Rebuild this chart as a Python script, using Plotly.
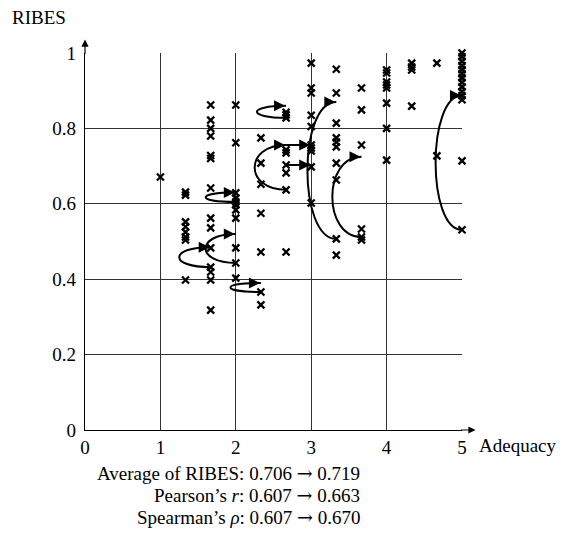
import plotly.graph_objects as go

# ---- data ----
levels = [1.0, 1.333, 1.667, 2.0, 2.333, 2.667, 3.0, 3.333, 3.667, 4.0, 4.333, 4.667, 5.0]
ribes_at_1_000 = [0.671]
ribes_at_1_333 = [0.631, 0.623, 0.552, 0.539, 0.525, 0.512, 0.504, 0.398]
ribes_at_1_667 = [0.862, 0.822, 0.800, 0.780, 0.728, 0.720, 0.642, 0.562, 0.536, 0.483, 0.432, 0.419, 0.398, 0.318]
ribes_at_2_000 = [0.862, 0.762, 0.629, 0.615, 0.605, 0.597, 0.584, 0.562, 0.483, 0.443, 0.403]
ribes_at_2_333 = [0.775, 0.708, 0.652, 0.575, 0.472, 0.366, 0.332]
ribes_at_2_667 = [0.843, 0.836, 0.828, 0.743, 0.735, 0.703, 0.682, 0.637, 0.472]
ribes_at_3_000 = [0.973, 0.907, 0.894, 0.835, 0.805, 0.756, 0.748, 0.740, 0.698, 0.602]
ribes_at_3_333 = [0.957, 0.894, 0.814, 0.775, 0.764, 0.751, 0.708, 0.663, 0.507, 0.464]
ribes_at_3_667 = [0.907, 0.849, 0.756, 0.533, 0.512, 0.504]
ribes_at_4_000 = [0.955, 0.947, 0.923, 0.915, 0.907, 0.867, 0.800, 0.716]
ribes_at_4_333 = [0.973, 0.963, 0.955, 0.859]
ribes_at_4_667 = [0.973, 0.727]
ribes_at_5_000 = [1.000, 0.990, 0.978, 0.967, 0.956, 0.945, 0.934, 0.922, 0.910, 0.898, 0.887, 0.876, 0.714, 0.531]
columns = [ribes_at_1_000, ribes_at_1_333, ribes_at_1_667, ribes_at_2_000, ribes_at_2_333,
           ribes_at_2_667, ribes_at_3_000, ribes_at_3_333, ribes_at_3_667, ribes_at_4_000,
           ribes_at_4_333, ribes_at_4_667, ribes_at_5_000]

# changes (before -> after)
arrow_x_from = [5.0, 3.333, 3.667, 2.667, 2.667, 2.667, 2.667, 2.0, 2.0, 1.667, 2.333]
arrow_y_from = [0.531, 0.507, 0.512, 0.828, 0.637, 0.756, 0.703, 0.605, 0.443, 0.432, 0.366]
arrow_x_to = [5.0, 3.333, 3.667, 2.667, 2.667, 3.0, 3.0, 2.0, 2.0, 1.667, 2.333]
arrow_y_to = [0.887, 0.870, 0.725, 0.860, 0.756, 0.756, 0.703, 0.630, 0.520, 0.485, 0.390]
arrow_leftmost = [4.65, 2.95, 3.28, 2.28, 2.25, None, None, 1.60, 1.60, 1.25, 1.93]

x_ticks = [0, 1, 2, 3, 4, 5]
y_ticks = [0, 0.2, 0.4, 0.6, 0.8, 1.0]
y_tick_text = ["0", "0.2", "0.4", "0.6", "0.8", "1"]

ARROW = "<span style='font-family:DejaVu Serif'>\u2192</span>"
stats_lines = [
    f"Average of RIBES: 0.706 {ARROW} 0.719",
    f"Pearson\u2019s <i>r</i>: 0.607 {ARROW} 0.663",
    f"Spearman\u2019s <i>\u03c1</i>: 0.607 {ARROW} 0.670",
]

# ---- figure ----
FONT = "Liberation Serif"
FS = 19

xs, ys = [], []
for lv, col in zip(levels, columns):
    for v in col:
        xs.append(lv)
        ys.append(v)

fig = go.Figure()
fig.add_trace(go.Scatter(
    x=xs, y=ys, mode="markers", cliponaxis=False,
    marker=dict(symbol="x-thin", size=7, color="black",
                line=dict(width=2.3, color="black")),
    showlegend=False, hoverinfo="skip",
))

shapes = []
annotations = []
for x0, y0, x1, y1, xl in zip(arrow_x_from, arrow_y_from, arrow_x_to, arrow_y_to, arrow_leftmost):
    if xl is None:
        path = f"M {x0},{y0} L {x1},{y1}"
    else:
        c = (4 * xl - x0) / 3
        path = f"M {x0},{y0} C {c},{y0} {c},{y1} {x1},{y1}"
    shapes.append(dict(type="path", xref="x", yref="y", path=path,
                       line=dict(color="black", width=2), layer="above"))
    annotations.append(dict(x=x1, y=y1, xref="x", yref="y", ax=-12, ay=0,
                            axref="pixel", ayref="pixel", text="", showarrow=True,
                            arrowhead=2, arrowsize=1.1, arrowwidth=2,
                            arrowcolor="black", standoff=1))

# axis arrows
annotations.append(dict(x=0, y=1.036, xref="paper", yref="paper", ax=0, ay=16,
                        text="", showarrow=True, arrowhead=2, arrowsize=1.2,
                        arrowwidth=1.2, arrowcolor="black"))
annotations.append(dict(x=1.036, y=0, xref="paper", yref="paper", ax=-16, ay=0,
                        text="", showarrow=True, arrowhead=2, arrowsize=1.2,
                        arrowwidth=1.2, arrowcolor="black"))

annotations.append(dict(x=-0.198, y=1.095, xref="paper", yref="paper", text="RIBES",
                        showarrow=False, xanchor="left", yanchor="middle",
                        font=dict(family=FONT, size=FS, color="black")))
annotations.append(dict(x=1.040, y=-0.04, xref="paper", yref="paper", text="Adequacy",
                        showarrow=False, xanchor="left", yanchor="middle",
                        font=dict(family=FONT, size=FS, color="black")))

for i, line in enumerate(stats_lines):
    annotations.append(dict(x=0.735, y=-0.114 - 0.059 * i, xref="paper", yref="paper",
                            text=line, showarrow=False, xanchor="right", yanchor="middle",
                            font=dict(family=FONT, size=FS, color="black")))

fig.update_layout(
    width=579, height=536,
    margin=dict(l=77, r=125, t=45, b=114),
    paper_bgcolor="white", plot_bgcolor="white",
    font=dict(family=FONT, size=FS, color="black"),
    shapes=shapes, annotations=annotations,
    xaxis=dict(range=[0, 5], tickvals=x_ticks, ticktext=[str(t) for t in x_ticks],
               showgrid=True, gridcolor="#333", gridwidth=1, zeroline=False,
               showline=True, linecolor="black", linewidth=1.3, ticks="",
               ticklabelstandoff=0, fixedrange=True),
    yaxis=dict(range=[0, 1], tickvals=y_ticks, ticktext=y_tick_text,
               showgrid=True, gridcolor="#333", gridwidth=1, zeroline=False,
               showline=True, linecolor="black", linewidth=1.3, ticks="",
               ticklabelstandoff=4, fixedrange=True),
)

fig.write_html("out.html")
